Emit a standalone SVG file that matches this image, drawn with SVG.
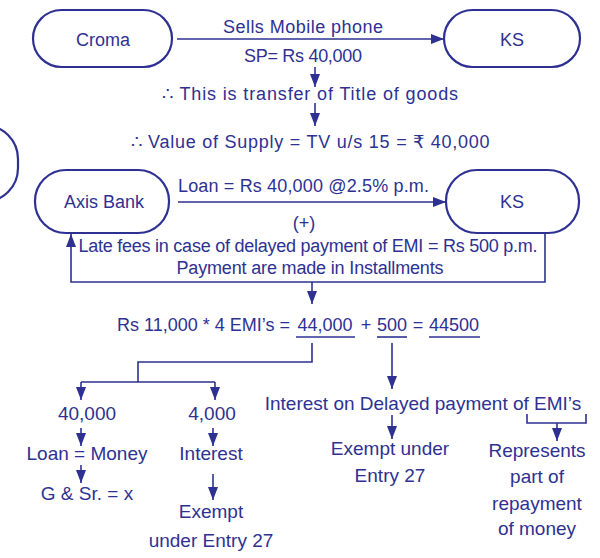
<svg xmlns="http://www.w3.org/2000/svg" width="600" height="558" viewBox="0 0 600 558">
<defs>
<style>
.node{fill:#fff;stroke:#2e3192;stroke-width:2.2}
.ln{fill:none;stroke:#2e3192;stroke-width:1.6}
text{font-family:"Liberation Sans",Arial,sans-serif;fill:#2e3192;text-anchor:middle}
.nt{font-size:18px}
.t{font-size:18px}
.b{font-size:19px}
</style>
<marker id="ah" markerUnits="userSpaceOnUse" markerWidth="14" markerHeight="12" refX="13" refY="5" orient="auto">
<path d="M0,0 L13,5 L0,10 z" fill="#2e3192"/>
</marker>
</defs>
<rect width="600" height="558" fill="#fff"/>
<g id="partial"><rect class="node" x="-60" y="125" width="78" height="77" rx="34"/></g>
<g id="croma"><rect class="node" x="33" y="10" width="139" height="57" rx="28.5"/><text class="nt" x="103" y="46">Croma</text></g>
<g id="ks1"><rect class="node" x="444" y="10" width="136" height="57" rx="28.5"/><text class="nt" x="512" y="46">KS</text></g>
<g id="axis"><rect class="node" x="35" y="170" width="134" height="63" rx="31"/><text class="nt" x="104" y="208">Axis Bank</text></g>
<g id="ks2"><rect class="node" x="446" y="170" width="133" height="63" rx="31"/><text class="nt" x="512" y="208">KS</text></g>
<g id="connectors" class="ln">
<line x1="177" y1="39" x2="444" y2="39" marker-end="url(#ah)"/>
<line x1="315" y1="67" x2="315" y2="87" marker-end="url(#ah)"/>
<line x1="315" y1="103" x2="315" y2="126" marker-end="url(#ah)"/>
<line x1="178" y1="202" x2="446" y2="202" marker-end="url(#ah)"/>
<polyline points="545,233 545,282 71,282 71,234" marker-end="url(#ah)"/>
<line x1="312" y1="282" x2="312" y2="304" marker-end="url(#ah)"/>
<polyline points="312,343 312,362 138,362 138,382"/>
<line x1="81" y1="382" x2="215" y2="382"/>
<line x1="81" y1="382" x2="81" y2="400" marker-end="url(#ah)"/>
<line x1="215" y1="382" x2="215" y2="400" marker-end="url(#ah)"/>
<line x1="392" y1="343" x2="392" y2="389" marker-end="url(#ah)"/>
<line x1="81" y1="428" x2="81" y2="446" marker-end="url(#ah)"/>
<line x1="81" y1="465" x2="81" y2="483" marker-end="url(#ah)"/>
<line x1="213" y1="428" x2="213" y2="446" marker-end="url(#ah)"/>
<line x1="213" y1="474" x2="213" y2="500" marker-end="url(#ah)"/>
<line x1="392" y1="415" x2="392" y2="439" marker-end="url(#ah)"/>
<polyline points="527,414 527,423 586,423 586,414"/>
<line x1="557" y1="423" x2="557" y2="441" marker-end="url(#ah)"/>
<line x1="296" y1="337" x2="355" y2="337"/>
<line x1="377" y1="337" x2="407" y2="337"/>
<line x1="429" y1="337" x2="480" y2="337"/>
</g>
<g id="labels">
<text class="t" x="303" y="33" textLength="160">Sells Mobile phone</text>
<text class="t" x="303" y="62" textLength="118">SP= Rs 40,000</text>
<text class="t" x="310" y="100" textLength="296">∴ This is transfer of Title of goods</text>
<text class="t" x="310" y="148" textLength="359">∴  Value of Supply = TV u/s 15 = ₹ 40,000</text>
<text class="t" x="178" y="192" style="text-anchor:start" textLength="251">Loan = Rs 40,000 @2.5% p.m.</text>
<text class="t" x="304" y="229">(+)</text>
<text class="t" x="308" y="252" textLength="459">Late fees in case of delayed payment of EMI = Rs 500 p.m.</text>
<text class="t" x="310" y="274" textLength="267">Payment are made in Installments</text>
<text class="t" x="290" y="331" style="text-anchor:end">Rs 11,000 * 4 EMI’s =</text>
<text class="t" x="325" y="331">44,000</text>
<text class="t" x="366" y="331">+</text>
<text class="t" x="392" y="331">500</text>
<text class="t" x="418" y="331">=</text>
<text class="t" x="454" y="331">44500</text>
<text class="b" x="87" y="420">40,000</text>
<text class="b" x="212" y="420">4,000</text>
<text class="b" x="423" y="410">Interest on Delayed payment of EMI’s</text>
<text class="b" x="87" y="460">Loan = Money</text>
<text class="b" x="211" y="460">Interest</text>
<text class="b" x="87" y="500">G &amp; Sr. = x</text>
<text class="b" x="211" y="518">Exempt</text>
<text class="b" x="211" y="547">under Entry 27</text>
<text class="b" x="390" y="455">Exempt under</text>
<text class="b" x="390" y="482">Entry 27</text>
<text class="b" x="537" y="457">Represents</text>
<text class="b" x="537" y="483">part of</text>
<text class="b" x="537" y="510">repayment</text>
<text class="b" x="537" y="535">of money</text>
</g>
</svg>
